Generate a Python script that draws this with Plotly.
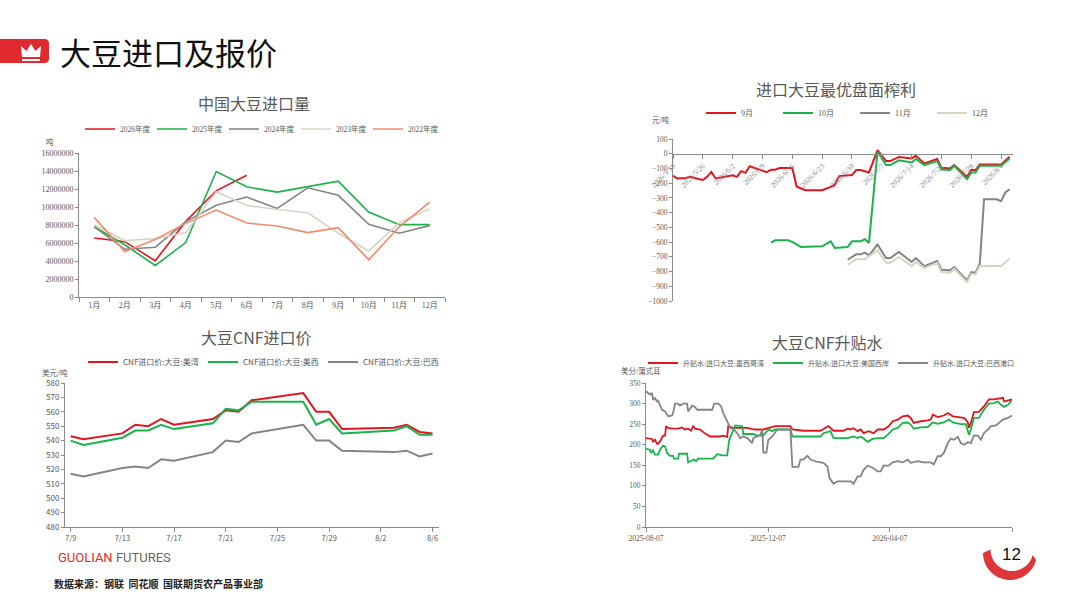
import math
import pandas as pd
import plotly.graph_objects as go

W, H = 1080, 608

# ---------------- data: chart 1 (中国大豆进口量) ----------------
months = ['1月', '2月', '3月', '4月', '5月', '6月', '7月', '8月', '9月', '10月', '11月', '12月']
imp_2026 = [6550000, 6150000, 4020000, 8400000, 11800000, 13530000]
imp_2025 = [7800000, 5800000, 3500000, 6050000, 13940000, 12240000, 11650000, 12240000, 12870000, 9440000, 8040000, 8040000]
imp_2024 = [7800000, 5300000, 5530000, 8370000, 10200000, 11100000, 9840000, 12130000, 11300000, 8070000, 7080000, 7930000]
imp_2023 = [8000000, 6270000, 6490000, 7150000, 11690000, 10170000, 9730000, 9360000, 7080000, 5120000, 8260000, 9800000]
imp_2022 = [8850000, 5050000, 6380000, 8180000, 9660000, 8220000, 7890000, 7150000, 7700000, 4130000, 7800000, 10540000]

# ---------------- data: chart 2 (进口大豆最优盘面榨利) ----------------
m9_dates = ['2026-05-19', '2026-05-20', '2026-05-22', '2026-05-23', '2026-05-25', '2026-05-26', '2026-05-27',
            '2026-05-28', '2026-05-29', '2026-05-31', '2026-06-02', '2026-06-03', '2026-06-04', '2026-06-05',
            '2026-06-06', '2026-06-10', '2026-06-11', '2026-06-12', '2026-06-13', '2026-06-16', '2026-06-17',
            '2026-06-19', '2026-06-23', '2026-06-25', '2026-06-26', '2026-06-27', '2026-06-30', '2026-07-01',
            '2026-07-02', '2026-07-04', '2026-07-06', '2026-07-08', '2026-07-09', '2026-07-11', '2026-07-14',
            '2026-07-15', '2026-07-17', '2026-07-20', '2026-07-21', '2026-07-23', '2026-07-24', '2026-07-27',
            '2026-07-28', '2026-07-29', '2026-07-30', '2026-08-04', '2026-08-06']
m9_vals = [-150, -168, -165, -157, -172, -178, -157, -123, -168, -158, -147, -157, -118, -130,
           -85, -125, -108, -108, -97, -97, -222, -248, -248, -225, -210, -152, -145, -111,
           -111, -127, 25, -50, -50, -22, -32, -14, -66, -36, -95, -100, -77, -157,
           -111, -111, -73, -73, -20]

m10_dates = ['2026-06-11', '2026-06-12', '2026-06-15', '2026-06-16', '2026-06-18', '2026-06-23', '2026-06-25',
             '2026-06-26', '2026-06-29', '2026-06-30', '2026-07-02', '2026-07-03', '2026-07-04', '2026-07-06',
             '2026-07-08', '2026-07-09', '2026-07-11', '2026-07-14', '2026-07-15', '2026-07-17', '2026-07-20',
             '2026-07-21', '2026-07-23', '2026-07-24', '2026-07-27', '2026-07-28', '2026-07-29', '2026-07-30',
             '2026-08-04', '2026-08-06']
m10_vals = [-604, -588, -588, -599, -633, -629, -595, -640, -633, -595, -595, -581, -604, 15,
            -77, -77, -45, -59, -36, -77, -50, -107, -111, -82, -173, -127, -127, -82, -82, -32]

m11_dates = ['2026-06-29', '2026-07-01', '2026-07-02', '2026-07-03', '2026-07-04', '2026-07-06', '2026-07-08',
             '2026-07-09', '2026-07-11', '2026-07-14', '2026-07-15', '2026-07-17', '2026-07-20', '2026-07-21',
             '2026-07-23', '2026-07-24', '2026-07-27', '2026-07-28', '2026-07-29', '2026-07-30', '2026-07-31',
             '2026-08-03', '2026-08-04', '2026-08-05', '2026-08-06']
m11_vals = [-720, -683, -683, -672, -690, -617, -708, -708, -667, -735, -708, -763, -729, -788,
            -792, -770, -860, -804, -808, -747, -309, -309, -322, -263, -241]

m12_dates = ['2026-06-29', '2026-07-01', '2026-07-03', '2026-07-06', '2026-07-08', '2026-07-09', '2026-07-11',
             '2026-07-14', '2026-07-15', '2026-07-17', '2026-07-20', '2026-07-21', '2026-07-23', '2026-07-24',
             '2026-07-27', '2026-07-28', '2026-07-29', '2026-07-30', '2026-08-04', '2026-08-06']
m12_vals = [-754, -717, -717, -656, -740, -740, -701, -763, -735, -776, -740, -804, -808, -781,
            -872, -815, -820, -763, -763, -713]

margin_ticks = ['2026-05-19', '2026-05-26', '2026-06-02', '2026-06-09', '2026-06-16', '2026-06-23',
                '2026-06-30', '2026-07-07', '2026-07-14', '2026-07-21', '2026-07-28', '2026-08-04']
margin_tick_text = ['2026/5/19', '2026/5/26', '2026/6/2', '2026/6/9', '2026/6/16', '2026/6/23',
                    '2026/6/30', '2026/7/7', '2026/7/14', '2026/7/21', '2026/7/28', '2026/8/4']

# ---------------- data: chart 3 (大豆CNF进口价) ----------------
cnf_dates = ['2026-07-09', '2026-07-10', '2026-07-13', '2026-07-14', '2026-07-15', '2026-07-16', '2026-07-17',
             '2026-07-20', '2026-07-21', '2026-07-22', '2026-07-23', '2026-07-27', '2026-07-28', '2026-07-29',
             '2026-07-30', '2026-08-03', '2026-08-04', '2026-08-05', '2026-08-06']
cnf_gulf = [543, 541, 545, 551, 550, 555, 551, 555, 561, 560, 568, 573, 560, 560, 548, 549, 551, 546, 545]
cnf_west = [540, 537, 542, 547, 547, 551, 548, 552, 562, 561, 567, 567, 551, 555, 545, 547, 550, 544, 544]
cnf_brazil = [517, 515, 521, 522, 521, 527, 526, 532, 540, 539, 545, 551, 540, 540, 533, 532, 533, 529, 531]
cnf_ticks = ['2026-07-09', '2026-07-13', '2026-07-17', '2026-07-21', '2026-07-25', '2026-07-29', '2026-08-02', '2026-08-06']
cnf_tick_text = ['7/9', '7/13', '7/17', '7/21', '7/25', '7/29', '8/2', '8/6']

# ---------------- data: chart 4 (大豆CNF升贴水), days since 2025-08-07 ----------------
basis_start = '2025-08-07'
gulf_days = [0, 6, 7, 9, 11, 12, 14, 17, 19, 20, 22, 26, 32, 36, 39, 42, 45, 47, 49, 54, 59, 64, 74, 77, 81, 82,
             87, 101, 106, 109, 117, 124, 129, 144, 146, 157, 174, 177, 182, 187, 197, 201, 204, 207, 211, 214,
             217, 222, 227, 231, 237, 242, 246, 251, 256, 261, 264, 267, 274, 281, 284, 286, 291, 297, 301, 306,
             311, 317, 319, 321, 322, 324, 327, 332, 337, 342, 347, 351, 356, 357, 361, 365]
gulf_vals = [216, 214, 208, 212, 202, 202, 208, 222, 222, 245, 241, 239, 239, 242, 237, 239, 234, 245, 239, 237,
             227, 220, 220, 222, 219, 245, 241, 241, 238, 237, 237, 241, 245, 245, 237, 234, 234, 238, 245, 234,
             234, 239, 237, 240, 233, 237, 228, 233, 228, 237, 237, 245, 257, 261, 269, 271, 265, 253, 257, 259,
             261, 273, 267, 271, 277, 269, 267, 265, 261, 254, 241, 253, 279, 280, 293, 310, 310, 311, 314, 305,
             308, 310]
west_days = [0, 4, 5, 7, 9, 12, 14, 17, 19, 21, 24, 27, 28, 32, 33, 41, 42, 46, 48, 50, 52, 67, 71, 76, 81, 83,
             86, 89, 96, 97, 107, 111, 117, 122, 126, 129, 144, 146, 174, 177, 184, 187, 201, 207, 211, 214, 217,
             221, 226, 231, 237, 241, 246, 251, 256, 261, 264, 267, 274, 281, 286, 291, 297, 302, 306, 314, 319,
             321, 322, 324, 327, 332, 337, 342, 347, 351, 354, 357, 361, 365]
west_vals = [190, 188, 180, 186, 176, 176, 188, 198, 196, 180, 173, 173, 166, 166, 178, 178, 157, 161, 164, 160,
             166, 166, 177, 174, 174, 212, 228, 247, 245, 226, 226, 222, 222, 237, 233, 237, 237, 220, 220, 228,
             233, 216, 216, 220, 216, 220, 215, 207, 214, 216, 216, 224, 237, 241, 253, 254, 249, 239, 242, 243,
             254, 251, 254, 261, 254, 250, 250, 233, 224, 237, 265, 265, 285, 300, 301, 305, 297, 292, 297, 308]
brazil_days = [0, 2, 4, 6, 7, 9, 11, 12, 14, 16, 19, 22, 26, 27, 29, 32, 34, 37, 41, 42, 46, 49, 51, 66, 68, 72,
               75, 77, 81, 84, 87, 91, 94, 97, 101, 106, 107, 111, 114, 116, 117, 120, 122, 126, 131, 144, 146,
               152, 154, 157, 161, 164, 171, 177, 181, 183, 187, 191, 204, 207, 211, 214, 217, 221, 226, 231, 234,
               237, 242, 246, 251, 256, 261, 264, 271, 277, 284, 287, 291, 294, 297, 301, 304, 307, 311, 314, 317,
               321, 324, 327, 331, 334, 337, 341, 344, 349, 352, 356, 361, 365]
brazil_vals = [330, 326, 322, 326, 309, 313, 305, 307, 297, 285, 281, 269, 271, 277, 300, 300, 295, 300, 300, 281,
               295, 291, 285, 285, 300, 300, 293, 277, 257, 241, 238, 228, 216, 220, 216, 204, 216, 220, 224, 237,
               181, 181, 212, 220, 237, 237, 146, 146, 164, 164, 173, 164, 158, 156, 147, 119, 105, 111, 111, 105,
               123, 123, 139, 149, 144, 135, 135, 149, 149, 157, 160, 157, 164, 156, 160, 157, 157, 152, 172, 172,
               180, 204, 215, 212, 219, 204, 200, 206, 204, 222, 222, 212, 228, 237, 245, 247, 253, 261, 265, 271]
basis_ticks = ['2025-08-07', '2025-12-07', '2026-04-07', '2026-08-07']
basis_tick_text = ['2025-08-07', '2025-12-07', '2026-04-07', '']

# ---------------- styles ----------------
RED = '#e2151f'
GREEN = '#19b34a'
GRAY = '#848484'
BEIGE = '#d8d4c4'
ORANGE = '#f4896d'
TXT = '#595959'
AX = '#8a8a8a'
SANS = 'Noto Sans CJK SC, Noto Sans, sans-serif'
SERIF = 'Liberation Serif, Noto Sans CJK SC, serif'


def px(x):
    return x / W


def py(y):
    return 1 - y / H


def to_dates(start, offsets):
    return pd.Timestamp(start) + pd.to_timedelta(offsets, unit='D')


fig = go.Figure()

# chart 1
for name, vals, col in [('2026年度', imp_2026, RED), ('2025年度', imp_2025, GREEN), ('2024年度', imp_2024, GRAY),
                        ('2023年度', imp_2023, BEIGE), ('2022年度', imp_2022, ORANGE)]:
    fig.add_trace(go.Scatter(x=months[:len(vals)], y=vals, mode='lines', name=name,
                             line=dict(color=col, width=1.6), xaxis='x', yaxis='y', legend='legend'))

# chart 2
for name, d, v, col in [('9月', m9_dates, m9_vals, RED), ('10月', m10_dates, m10_vals, GREEN),
                        ('11月', m11_dates, m11_vals, GRAY), ('12月', m12_dates, m12_vals, BEIGE)]:
    fig.add_trace(go.Scatter(x=d, y=v, mode='lines', name=name, line=dict(color=col, width=2),
                             xaxis='x2', yaxis='y2', legend='legend2'))

# chart 3
for name, v, col in [('CNF进口价:大豆:美湾', cnf_gulf, RED), ('CNF进口价:大豆:美西', cnf_west, GREEN),
                     ('CNF进口价:大豆:巴西', cnf_brazil, GRAY)]:
    fig.add_trace(go.Scatter(x=cnf_dates, y=v, mode='lines', name=name, line=dict(color=col, width=2),
                             xaxis='x3', yaxis='y3', legend='legend3'))

# chart 4
for name, dd, v, col in [('升贴水:进口大豆:墨西哥湾', gulf_days, gulf_vals, RED),
                         ('升贴水:进口大豆:美国西岸', west_days, west_vals, GREEN),
                         ('升贴水:进口大豆:巴西港口', brazil_days, brazil_vals, GRAY)]:
    fig.add_trace(go.Scatter(x=to_dates(basis_start, dd), y=v, mode='lines', name=name,
                             line=dict(color=col, width=1.8), xaxis='x4', yaxis='y4', legend='legend4'))

axis_common = dict(showline=True, linecolor=AX, linewidth=1, ticks='outside', tickcolor=AX, ticklen=3,
                   showgrid=False, zeroline=False, fixedrange=True, automargin=False)

y2_dom = [py(301), py(139)]
x2_pos = y2_dom[0] + (y2_dom[1] - y2_dom[0]) * 1000 / 1100

leg_common = dict(orientation='h', xanchor='left', yanchor='middle', bgcolor='rgba(0,0,0,0)',
                  itemclick=False, itemdoubleclick=False, entrywidthmode='pixels', tracegroupgap=0)

fig.update_layout(
    width=W, height=H, margin=dict(l=0, r=0, t=0, b=0, pad=0, autoexpand=False),
    paper_bgcolor='white', plot_bgcolor='rgba(0,0,0,0)', showlegend=True, hovermode=False,
    xaxis=dict(axis_common, domain=[px(79), px(445)], anchor='y', type='category', range=[-0.5, 11.5],
               tickson='boundaries', ticklen=4, tickfont=dict(family=SERIF, size=8, color=TXT)),
    yaxis=dict(axis_common, domain=[py(297), py(153)], anchor='x', range=[0, 16000000], dtick=2000000,
               tickformat='d', tickfont=dict(family=SERIF, size=8, color=TXT)),
    xaxis2=dict(axis_common, domain=[px(673), px(1013)], anchor='free', position=x2_pos, type='date',
                range=['2026-05-19', '2026-08-06 19:00'], tickvals=margin_ticks, ticktext=margin_tick_text,
                tickangle=-45, ticklen=4, tickfont=dict(family=SERIF, size=7.5, color='#8c8c8c')),
    yaxis2=dict(axis_common, domain=y2_dom, anchor='x2', range=[-1000, 100], dtick=100,
                tickfont=dict(family=SERIF, size=7.5, color=TXT)),
    xaxis3=dict(axis_common, domain=[px(65), px(439)], anchor='y3', type='date',
                range=['2026-07-08 13:30', '2026-08-06 12:00'], tickvals=cnf_ticks, ticktext=cnf_tick_text,
                tickangle=0, ticklen=4, tickfont=dict(family=SANS, size=7.5, color=TXT)),
    yaxis3=dict(axis_common, domain=[py(527), py(383)], anchor='x3', range=[480, 580], dtick=10,
                tickfont=dict(family=SANS, size=8, color=TXT)),
    xaxis4=dict(axis_common, domain=[px(646), px(1012)], anchor='y4', type='date',
                range=['2025-08-07', '2026-08-07'], tickvals=basis_ticks, ticktext=basis_tick_text,
                tickangle=0, ticklen=4, tickfont=dict(family=SERIF, size=7.5, color=TXT)),
    yaxis4=dict(axis_common, domain=[py(527), py(383)], anchor='x4', range=[0, 350], dtick=50,
                tickfont=dict(family=SERIF, size=7.5, color=TXT)),
    legend=dict(leg_common, x=px(80), y=py(129), font=dict(family=SERIF, size=7.5, color=TXT), entrywidth=27),
    legend2=dict(leg_common, x=px(701), y=py(113), font=dict(family=SERIF, size=8, color=TXT), entrywidth=32),
    legend3=dict(leg_common, x=px(83), y=py(362), font=dict(family=SANS, size=8, color=TXT), entrywidth=75),
    legend4=dict(leg_common, x=px(643), y=py(363), font=dict(family=SERIF, size=7, color=TXT), entrywidth=80),
)

ann = []


def text(x, y, s, size, color=TXT, family=SANS, xanchor='center', bold=False):
    if bold:
        s = '<b>' + s + '</b>'
    ann.append(dict(x=px(x), y=py(y), xref='paper', yref='paper', text=s, showarrow=False,
                    xanchor=xanchor, yanchor='middle', font=dict(size=size, color=color, family=family)))


# titles
text(254, 103, '中国大豆进口量', 16)
text(836, 89, '进口大豆最优盘面榨利', 16)
text(256, 337, '大豆CNF进口价', 16)
text(827, 342, '大豆CNF升贴水', 16)
# units
text(44, 142, '吨', 7.5, family=SERIF, xanchor='left')
text(650, 120, '元/吨', 7.5, family=SERIF, xanchor='left')
text(40, 372, '美元/吨', 7.5, xanchor='left')
text(619, 371, '美分/蒲式耳', 7.5, family=SERIF, xanchor='left')
# header / footer
text(58, 52, '大豆进口及报价', 31, color='#111111', xanchor='left')
ann.append(dict(x=px(56), y=py(557), xref='paper', yref='paper', showarrow=False, xanchor='left', yanchor='middle',
                text='<span style="color:#e8262d">GUOLIAN</span> <span style="color:#666666">FUTURES</span>',
                font=dict(size=13, family='Liberation Sans Narrow, Roboto, sans-serif')))
text(52, 583, '数据来源：钢联  同花顺  国联期货农产品事业部', 10, color='#222222', xanchor='left', bold=True)
text(1011, 554, '12', 17, color='#111111', family='Liberation Sans, Arial, sans-serif')

fig.update_layout(annotations=ann)


def path(points):
    return 'M ' + ' L '.join(f'{px(x):.5f},{py(y):.5f}' for x, y in points) + ' Z'


shapes = []
# red header badge with rounded right corners
badge = [(0, 39), (45, 39)]
for k in range(0, 91, 15):
    a = math.radians(-90 + k)
    badge.append((45 + 4 * math.cos(a), 43 + 4 * math.sin(a)))
for k in range(0, 91, 15):
    a = math.radians(k)
    badge.append((45 + 4 * math.cos(a), 59 + 4 * math.sin(a)))
badge += [(0, 63)]
shapes.append(dict(type='path', path=path(badge), xref='paper', yref='paper', fillcolor='#e02a2f',
                   line=dict(width=0), layer='above'))
crown = [(22, 57), (21, 46), (26.5, 51), (31, 44), (35.5, 51), (41, 46), (40, 57)]
shapes.append(dict(type='path', path=path(crown), xref='paper', yref='paper', fillcolor='white',
                   line=dict(width=0), layer='above'))
shapes.append(dict(type='rect', x0=px(22), x1=px(40), y0=py(61), y1=py(59), xref='paper', yref='paper',
                   fillcolor='white', line=dict(width=0), layer='above'))

# page number arc
arc = []
for k in range(0, 34):
    a = math.radians(180 - k * 5)
    arc.append((1010 + 27 * math.cos(a), 553 + 27 * math.sin(a)))
for k in range(33, -1, -1):
    a = math.radians(180 - k * 5)
    arc.append((1012 + 21.5 * math.cos(a), 549.5 + 21.5 * math.sin(a)))
shapes.append(dict(type='path', path=path(arc), xref='paper', yref='paper', fillcolor='#dc2a2e',
                   line=dict(width=0), layer='above', opacity=0.95))

fig.update_layout(shapes=shapes)

fig.write_html('out.html', config={'displayModeBar': False, 'staticPlot': True},
               post_script="document.body.style.margin='0px';document.body.style.overflow='hidden';")
